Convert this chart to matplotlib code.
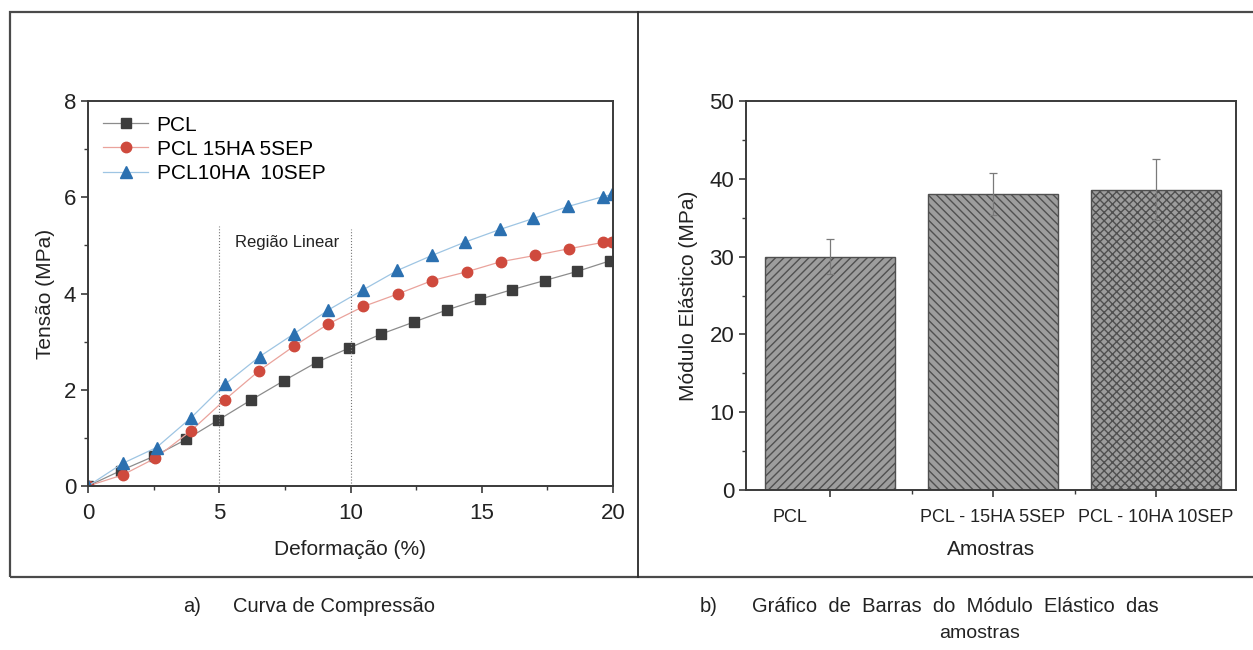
import matplotlib.pyplot as plt
from matplotlib.patches import Rectangle
from matplotlib.lines import Line2D
from matplotlib.transforms import ScaledTranslation
from matplotlib.ticker import MultipleLocator, FixedLocator

plt.rcParams['font.family'] = ['Liberation Sans', 'DejaVu Sans']
plt.rcParams['hatch.linewidth'] = 1.0

# compression curves
pcl_x = [0, 1.25, 2.52, 3.75, 4.96, 6.22, 7.47, 8.71, 9.96, 11.18, 12.43, 13.68, 14.93, 16.15, 17.4, 18.64, 19.89]
pcl_y = [0, 0.32, 0.62, 0.97, 1.37, 1.79, 2.19, 2.57, 2.87, 3.16, 3.41, 3.66, 3.88, 4.08, 4.27, 4.46, 4.68]

ha15_x = [0, 1.32, 2.57, 3.93, 5.21, 6.53, 7.83, 9.16, 10.49, 11.8, 13.12, 14.42, 15.72, 17.02, 18.32, 19.6, 19.97]
ha15_y = [0, 0.23, 0.58, 1.15, 1.79, 2.40, 2.90, 3.37, 3.73, 3.99, 4.27, 4.45, 4.66, 4.79, 4.93, 5.06, 5.07]

ha10_x = [0, 1.32, 2.61, 3.93, 5.23, 6.54, 7.84, 9.16, 10.46, 11.79, 13.1, 14.37, 15.69, 16.97, 18.3, 19.6, 19.97]
ha10_y = [0, 0.47, 0.80, 1.42, 2.12, 2.69, 3.16, 3.66, 4.07, 4.48, 4.79, 5.07, 5.33, 5.56, 5.81, 6.01, 6.06]

# elastic modulus bars
amostras = ['PCL', 'PCL - 15HA 5SEP', 'PCL - 10HA 10SEP']
modulo = [30.0, 38.1, 38.6]
modulo_err = [2.2, 2.7, 3.9]
hatches = ['////', '\\\\\\\\', 'xxxx']

fig = plt.figure(figsize=(12.53, 6.5), dpi=100)

# outer frame and divider
fig.add_artist(Rectangle((10 / 1253, 1 - 577 / 650), 1.2, (577 - 12) / 650,
                         transform=fig.transFigure, fill=False,
                         edgecolor='#4a4a4a', linewidth=1.6))
fig.add_artist(Line2D([638 / 1253, 638 / 1253], [1 - 12 / 650, 1 - 577 / 650],
                      transform=fig.transFigure, color='#2a2a2a', linewidth=1.3))

spine_c = '#3a3a3a'

# a) compression curve
ax1 = fig.add_axes([88 / 1253, 1 - 486 / 650, 525 / 1253, 385 / 650])
ax1.plot(pcl_x, pcl_y, color='#8c8c8c', lw=0.9, marker='s', ms=6.5,
         mfc='#3d3d3d', mec='#3d3d3d', label='PCL')
ax1.plot(ha15_x, ha15_y, color='#eaa39c', lw=0.9, marker='o', ms=7.5,
         mfc='#cf4a3d', mec='#cf4a3d', label='PCL 15HA 5SEP')
ax1.plot(ha10_x, ha10_y, color='#9ec5e3', lw=0.9, marker='^', ms=8,
         mfc='#2b70b0', mec='#2b70b0', label='PCL10HA  10SEP')
ax1.plot([5, 5], [0, 5.4], color='#777777', lw=0.8, ls=':')
ax1.plot([10, 10], [0, 5.33], color='#777777', lw=0.8, ls=':')
ax1.text(7.6, 5.05, 'Região Linear', ha='center', va='center', fontsize=12, color='#222222')
ax1.set_xlim(0, 20)
ax1.set_ylim(0, 8)
ax1.xaxis.set_major_locator(MultipleLocator(5))
ax1.xaxis.set_minor_locator(MultipleLocator(2.5))
ax1.yaxis.set_major_locator(MultipleLocator(2))
ax1.yaxis.set_minor_locator(MultipleLocator(1))
ax1.tick_params(which='major', direction='out', length=5, width=1.2, labelsize=16,
                colors=spine_c, labelcolor='#222222')
ax1.tick_params(axis='x', which='major', pad=7)
ax1.tick_params(which='minor', direction='out', length=3, width=1.0, colors=spine_c)
for s in ax1.spines.values():
    s.set_color(spine_c)
    s.set_linewidth(1.4)
ax1.set_xlabel('Deformação (%)', fontsize=15, color='#222222', labelpad=12)
ax1.set_ylabel('Tensão (MPa)', fontsize=15, color='#222222', labelpad=6)
ax1.legend(loc='upper left', frameon=False, fontsize=15, handlelength=2.2,
           handletextpad=0.4, labelspacing=0.25, borderaxespad=0.3)

# b) elastic modulus bars
ax2 = fig.add_axes([746 / 1253, 1 - 490 / 650, 490 / 1253, 389 / 650])
pos = list(range(len(amostras)))
bars = ax2.bar(pos, modulo, width=0.8, color='#9d9d9d', edgecolor='#505050', linewidth=1.0)
for b, h in zip(bars, hatches):
    b.set_hatch(h)
ax2.errorbar(pos, modulo, yerr=modulo_err, fmt='none', ecolor='#7a7a7a',
             elinewidth=0.9, capsize=3, capthick=0.9)
ax2.set_xlim(-0.515, 2.49)
ax2.set_ylim(0, 50)
ax2.set_xticks(pos)
ax2.set_xticklabels(amostras)
ax2.xaxis.set_minor_locator(FixedLocator([0.5, 1.5]))
ax2.yaxis.set_major_locator(MultipleLocator(10))
ax2.yaxis.set_minor_locator(MultipleLocator(5))
ax2.tick_params(which='major', direction='out', length=5, width=1.2, labelsize=16,
                colors=spine_c, labelcolor='#222222')
ax2.tick_params(axis='x', which='major', labelsize=13, pad=9)
ax2.tick_params(which='minor', direction='out', length=3, width=1.0, colors=spine_c)
for s in ax2.spines.values():
    s.set_color(spine_c)
    s.set_linewidth(1.4)
lbl = ax2.get_xticklabels()[0]
lbl.set_transform(lbl.get_transform() + ScaledTranslation(-0.4, 0, fig.dpi_scale_trans))
ax2.set_xlabel('Amostras', fontsize=15, color='#222222', labelpad=10)
ax2.set_ylabel('Módulo Elástico (MPa)', fontsize=15, color='#222222', labelpad=8)

# captions
fig.text(183 / 1253, 1 - 607 / 650, 'a)', fontsize=14.5, va='center', color='#222222')
fig.text(233 / 1253, 1 - 607 / 650, 'Curva de Compressão', fontsize=14.5, va='center', color='#222222')
fig.text(700 / 1253, 1 - 607 / 650, 'b)', fontsize=14.5, va='center', color='#222222')
fig.text(752 / 1253, 1 - 607 / 650, 'Gráfico  de  Barras  do  Módulo  Elástico  das',
         fontsize=14.5, va='center', color='#222222')
fig.text(980 / 1253, 1 - 633 / 650, 'amostras', fontsize=14, va='center', ha='center', color='#222222')

fig.savefig('out.png', dpi=100)
